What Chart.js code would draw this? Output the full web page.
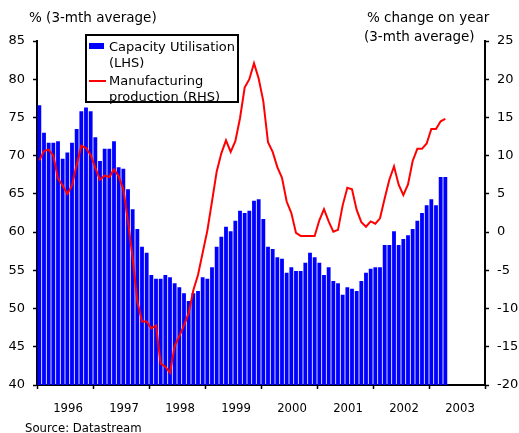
<!DOCTYPE html>
<html>
<head>
<meta charset="utf-8">
<script src="https://cdn.jsdelivr.net/npm/chart.js@4.4.1/dist/chart.umd.min.js"></script>
<style>
  html, body { margin: 0; padding: 0; background: #fff; }
  body { width: 519px; height: 433px; position: relative; overflow: hidden;
         font-family: 'DejaVu Sans', sans-serif; color: #000; }
  #chart { position: absolute; left: 0; top: 0; }
  .txt { position: absolute; white-space: nowrap; font-size: 13px; line-height: 16px; }
  .ttl { font-size: 13.5px; }
  #legend { position: absolute; left: 85px; top: 34px; width: 154px; height: 69px;
            border: 2px solid #000; box-sizing: border-box; background: #fff; }
</style>
</head>
<body>
<canvas id="chart" width="519" height="433"></canvas>

<div class="txt ttl" style="left:29px;top:9px;">% (3-mth average)</div>
<div class="txt ttl" style="left:367px;top:9px;">% change on year</div>
<div class="txt ttl" style="left:364px;top:28px;">(3-mth average)</div>

<div id="legend"></div>
<div style="position:absolute;left:89px;top:43px;width:15px;height:6px;background:#0000ff;"></div>
<div class="txt" style="left:109px;top:39px;">Capacity Utilisation</div>
<div class="txt" style="left:109px;top:55px;">(LHS)</div>
<div style="position:absolute;left:89px;top:80px;width:17px;height:2px;background:#ff0000;"></div>
<div class="txt" style="left:109px;top:73px;">Manufacturing</div>
<div class="txt" style="left:109px;top:89px;">production (RHS)</div>

<div class="txt" style="left:25px;top:421px;font-size:11.7px;line-height:14px;">Source: Datastream</div>

<script>
// years on the axis, one category per month
const years = ['1996', '1997', '1998', '1999', '2000', '2001', '2002', '2003'];
const months = ['01', '02', '03', '04', '05', '06', '07', '08', '09', '10', '11', '12'];

// Capacity utilisation, % (LHS), Jan 1996 - Apr 2003
const capacity = [
  76.6, 73.0, 71.7, 71.7, 71.9, 69.6, 70.4, 71.7, 73.5, 75.8, 76.3, 75.8,
  72.4, 69.3, 70.9, 70.9, 71.9, 68.5, 68.3, 65.6, 63.0, 60.4, 58.1, 57.3,
  54.4, 53.9, 53.9, 54.4, 54.1, 53.3, 52.8, 52.0, 51.0, 52.0, 52.3, 54.1,
  53.9, 55.4, 58.1, 59.4, 60.7, 60.1, 61.5, 62.8, 62.5, 62.8, 64.1, 64.3,
  61.7, 58.1, 57.8, 56.7, 56.5, 54.7, 55.4, 54.9, 54.9, 56.0, 57.3, 56.7,
  56.0, 54.4, 55.4, 53.6, 53.3, 51.8, 52.8, 52.6, 52.3, 53.6, 54.7, 55.2,
  55.4, 55.4, 58.3, 58.3, 60.1, 58.3, 59.1, 59.6, 60.4, 61.5, 62.5, 63.5,
  64.3, 63.5, 67.2, 67.2
];

// Manufacturing production, % change on year (RHS)
const production = [
  9.4, 10.6, 10.8, 10.0, 7.0, 6.1, 5.0, 6.1, 8.8, 11.3, 11.0, 10.1,
  8.4, 6.85, 7.4, 7.2, 8.2, 7.3, 5.6, 1.4, -3.4, -9.1, -11.7, -11.7,
  -12.6, -12.2, -17.2, -17.6, -18.4, -14.9, -13.6, -12.2, -10.6, -7.6, -5.6, -2.7,
  0.2, 4.0, 7.9, 10.3, 12.0, 10.5, 11.9, 14.9, 18.9, 20.0, 22.1, 20.1,
  17.1, 11.75, 10.5, 8.5, 7.1, 4.0, 2.5, -0.1, -0.5, -0.5, -0.5, -0.5,
  1.55, 3.0, 1.4, 0.05, 0.3, 3.5, 5.8, 5.6, 2.9, 1.3, 0.7, 1.4,
  1.1, 1.8, 4.4, 6.85, 8.6, 6.2, 4.85, 6.25, 9.3, 10.9, 10.9, 11.6,
  13.5, 13.5, 14.5, 14.8
];

const labels = [];
years.forEach(y => months.forEach(m => labels.push(y + '-' + m)));
const pad = arr => arr.concat(new Array(labels.length - arr.length).fill(null));

Chart.defaults.font.family = "'DejaVu Sans', sans-serif";
Chart.defaults.color = '#000';

new Chart(document.getElementById('chart'), {
  type: 'bar',
  data: {
    labels: labels,
    datasets: [
      {
        type: 'line',
        label: 'Manufacturing production (RHS)',
        data: pad(production),
        yAxisID: 'y2',
        borderColor: '#ff0000',
        borderWidth: 2,
        pointRadius: 0,
        tension: 0,
        order: 0
      },
      {
        label: 'Capacity Utilisation (LHS)',
        data: pad(capacity),
        yAxisID: 'y',
        backgroundColor: '#0000ff',
        barPercentage: 0.82,
        categoryPercentage: 1,
        order: 1
      }
    ]
  },
  options: {
    responsive: false,
    devicePixelRatio: 1,
    animation: false,
    layout: { padding: { top: 41, left: 0, right: 0, bottom: 0 } },
    plugins: { legend: { display: false }, tooltip: { enabled: false } },
    scales: {
      x: { display: false },
      // visible year axis: one unit per month, ticks every year, labels mid-year
      years: {
        type: 'linear',
        position: 'bottom',
        min: 0,
        max: 96,
        offset: false,
        afterFit: s => { s.height = 48; },
        ticks: {
          stepSize: 6,
          autoSkip: false,
          maxRotation: 0,
          padding: 13,
          labelOffset: 3,
          font: { size: 11.7 },
          callback: v => (v % 12 === 6 ? String(1996 + (v - 6) / 12) : '')
        },
        grid: {
          offset: false,
          drawOnChartArea: false,
          tickLength: 4,
          tickWidth: 1.5,
          tickColor: c => (c.tick && c.tick.value % 12 === 0 ? '#000' : 'rgba(0,0,0,0)')
        },
        border: { color: '#000', width: 2 }
      },
      y: {
        position: 'left',
        min: 40,
        max: 85,
        afterFit: s => { s.width = 37; },
        ticks: { stepSize: 5, padding: 8, font: { size: 13 } },
        grid: { drawOnChartArea: false, tickLength: 4, tickColor: '#000', tickWidth: 1.5 },
        border: { color: '#000', width: 2 }
      },
      y2: {
        position: 'right',
        min: -20,
        max: 25,
        afterFit: s => { s.width = 34; },
        ticks: { stepSize: 5, padding: 8, font: { size: 13 } },
        grid: { drawOnChartArea: false, tickLength: 4, tickColor: '#000', tickWidth: 1.5 },
        border: { color: '#000', width: 2 }
      }
    }
  }
});
</script>
</body>
</html>
